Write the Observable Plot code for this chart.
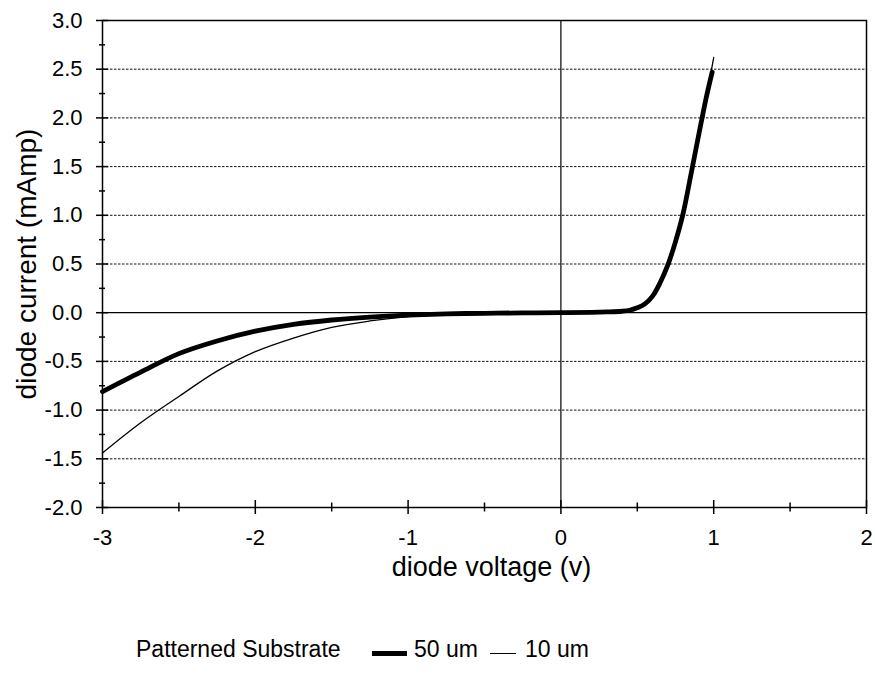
<!DOCTYPE html>
<html>
<head>
<meta charset="utf-8">
<script src="https://cdn.jsdelivr.net/npm/d3@7"></script>
<script src="https://cdn.jsdelivr.net/npm/@observablehq/plot@0.6"></script>
<style>
  html, body { margin: 0; padding: 0; background: #fff; }
  #wrap { position: relative; width: 875px; height: 674px; font-family: "Liberation Sans", Arial, sans-serif; }
  .lg { position: absolute; font-size: 23px; line-height: normal; color: #000; white-space: nowrap; }
  .sw { position: absolute; background: #000; }
</style>
</head>
<body>
<div id="wrap">
  <div id="chart"></div>
  <div class="lg" style="left:136px; top:636px;">Patterned Substrate</div>
  <div class="sw" style="left:372px; top:651px; width:35px; height:5px;"></div>
  <div class="lg" style="left:414px; top:636px;">50 um</div>
  <div class="sw" style="left:490px; top:653px; width:26px; height:1.3px;"></div>
  <div class="lg" style="left:525px; top:636px;">10 um</div>
</div>
<script>
// Series: 50 um (thick) and 10 um (thin)
const v50 = [-3, -2.75, -2.5, -2.25, -2, -1.75, -1.5, -1.25, -1, -0.75, -0.5, -0.25, 0, 0.2, 0.3, 0.4, 0.45, 0.5, 0.55, 0.6, 0.65, 0.7, 0.75, 0.8, 0.85, 0.9, 0.95, 0.99];
const i50 = [-0.81, -0.61, -0.42, -0.29, -0.19, -0.12, -0.075, -0.045, -0.025, -0.012, -0.006, -0.002, 0, 0.004, 0.008, 0.015, 0.025, 0.05, 0.09, 0.17, 0.31, 0.49, 0.73, 1.02, 1.41, 1.81, 2.2, 2.47];
const v10 = [-3, -2.75, -2.5, -2.25, -2, -1.75, -1.5, -1.25, -1, -0.75, -0.5, -0.25, 0, 0.2, 0.3, 0.4, 0.45, 0.5, 0.55, 0.6, 0.65, 0.7, 0.75, 0.8, 0.85, 0.9, 0.95, 1.0];
const i10 = [-1.44, -1.13, -0.86, -0.6, -0.4, -0.26, -0.15, -0.085, -0.04, -0.015, -0.006, -0.002, 0, 0.004, 0.008, 0.015, 0.025, 0.05, 0.09, 0.17, 0.31, 0.49, 0.73, 1.02, 1.41, 1.81, 2.2, 2.62];

// Ticks
const xMajor = [-3, -2, -1, 0, 1, 2];
const xMinor = [-2.5, -1.5, -0.5, 0.5, 1.5];
const yMajor = [-2, -1.5, -1, -0.5, 0, 0.5, 1, 1.5, 2, 2.5, 3];
const yMinor = [-1.75, -1.25, -0.75, -0.25, 0.25, 0.75, 1.25, 1.75, 2.25, 2.75];
const gridY = [-1.5, -1, -0.5, 0.5, 1, 1.5, 2, 2.5];

const xTitle = "diode voltage (v)";
const yTitle = "diode current (mAmp)";

const d50 = v50.map((v, k) => ({v, i: i50[k]}));
const d10 = v10.map((v, k) => ({v, i: i10[k]}));

const blank = () => "";

const chart = Plot.plot({
  width: 875,
  height: 590,
  marginLeft: 102,
  marginRight: 9,
  marginTop: 20,
  marginBottom: 83,
  style: {fontFamily: "Liberation Sans, Arial, sans-serif", fontSize: "22px", color: "#000", background: "#fff"},
  x: {domain: [-3, 2]},
  y: {domain: [-2, 3]},
  marks: [
    Plot.ruleY(gridY, {stroke: "#111", strokeWidth: 1, strokeDasharray: "2.5,1.5"}),
    Plot.ruleY([0], {stroke: "#000", strokeWidth: 1.2}),
    Plot.ruleX([0], {stroke: "#000", strokeWidth: 1.2}),
    Plot.frame({stroke: "#000", strokeWidth: 1.5}),
    Plot.axisX({ticks: xMajor, tickSize: 14, dy: -7, tickFormat: blank, label: null, strokeWidth: 1.5}),
    Plot.axisX({ticks: xMinor, tickSize: 9, dy: -4.5, tickFormat: blank, label: null, strokeWidth: 1.5}),
    Plot.axisX({ticks: xMajor, tickSize: 0, tickPadding: 22, tickFormat: d => String(d), label: null}),
    Plot.axisY({ticks: yMajor, tickSize: 12, dx: 6, tickFormat: blank, label: null, strokeWidth: 1.5}),
    Plot.axisY({ticks: yMinor, tickSize: 6, dx: 3, tickFormat: blank, label: null, strokeWidth: 1.5}),
    Plot.axisY({ticks: yMajor, tickSize: 0, tickPadding: 20, tickFormat: d => d.toFixed(1), label: null}),
    Plot.line(d10, {x: "v", y: "i", stroke: "#000", strokeWidth: 1.3, curve: "catmull-rom"}),
    Plot.line(d50, {x: "v", y: "i", stroke: "#000", strokeWidth: 4.8, curve: "catmull-rom"}),
    Plot.text([xTitle], {frameAnchor: "bottom", textAnchor: "middle", lineAnchor: "middle", dx: 7, dy: 60, fontSize: 27, text: d => d}),
    Plot.text([yTitle], {frameAnchor: "left", textAnchor: "middle", lineAnchor: "middle", dx: -75, rotate: -90, fontSize: 28, text: d => d})
  ]
});
document.getElementById("chart").appendChild(chart);
</script>
</body>
</html>
